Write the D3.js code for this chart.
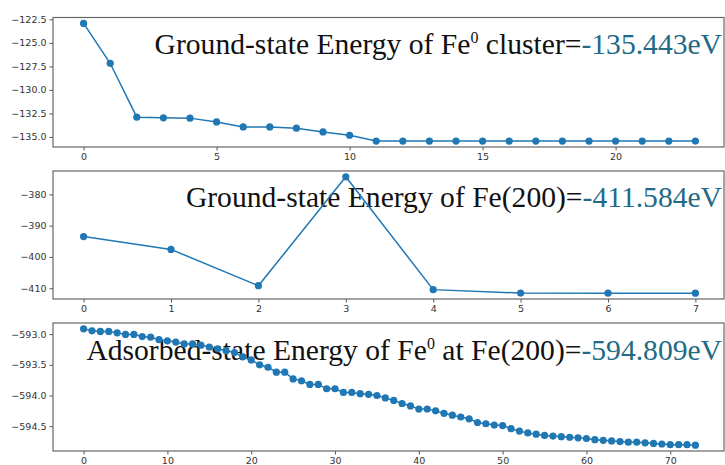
<!DOCTYPE html>
<html>
<head>
    <script src="https://d3js.org/d3.v7.min.js" charset="utf-8"></script>
    <style>
        body { margin: 0; background: #fff; }
        .tick text { font-family: "DejaVu Sans", sans-serif; font-size: 9.5px; fill: #333; }
        .tick line { stroke: #555; }
        .title { font-family: "Liberation Serif", "Times New Roman", serif; font-size: 29.6px; fill: #111; }
    </style>
</head>

<body>
    <script type="text/javascript">
        var width = 725;
        var height = 465;

        // Panel 1: Fe0 cluster relaxation
        var clusterSteps = d3.range(0, 24);
        var clusterEnergy = [-122.93, -127.17, -132.90, -132.97, -133.00, -133.40, -133.93, -133.93,
            -134.07, -134.47, -134.82, -135.44, -135.44, -135.44, -135.44, -135.44, -135.44, -135.44,
            -135.44, -135.44, -135.44, -135.44, -135.44, -135.443];
        var clusterYTicks = [-122.5, -125.0, -127.5, -130.0, -132.5, -135.0];
        var clusterXTicks = [0, 5, 10, 15, 20];

        // Panel 2: Fe(200) surface
        var surfSteps = d3.range(0, 8);
        var surfEnergy = [-393.5, -397.6, -409.2, -374.4, -410.45, -411.55, -411.57, -411.584];
        var surfYTicks = [-380, -390, -400, -410];
        var surfXTicks = [0, 1, 2, 3, 4, 5, 6, 7];

        // Panel 3: Fe0 adsorbed at Fe(200)
        var adsSteps = d3.range(0, 74);
        var adsEnergy = [-592.914, -592.947, -592.956, -592.956, -592.98, -593.005, -593.005, -593.04,
            -593.05, -593.09, -593.11, -593.13, -593.16, -593.16, -593.18, -593.21, -593.24, -593.27,
            -593.30, -593.37, -593.42, -593.50, -593.54, -593.62, -593.62, -593.73, -593.76, -593.82,
            -593.82, -593.89, -593.89, -593.95, -593.95, -593.97, -593.98, -594.00, -594.04, -594.08,
            -594.13, -594.17, -594.22, -594.22, -594.25, -594.29, -594.32, -594.35, -594.38, -594.44,
            -594.46, -594.48, -594.49, -594.54, -594.58, -594.61, -594.63, -594.65, -594.66, -594.67,
            -594.68, -594.69, -594.70, -594.72, -594.73, -594.74, -594.75, -594.76, -594.76, -594.77,
            -594.78, -594.79, -594.80, -594.80, -594.80, -594.809];
        var adsYTicks = [-593.0, -593.5, -594.0, -594.5];
        var adsXTicks = [0, 10, 20, 30, 40, 50, 60, 70];

        var blue = "#1f77b4";
        var teal = "#236a86";

        const svg = d3.select("body").append("svg")
            .attr("width", width)
            .attr("height", height);

        // matplotlib-style 5% padding on both axes
        function padded(ext) {
            var p = (ext[1] - ext[0]) * 0.05;
            return [ext[0] - p, ext[1] + p];
        }

        function drawPanel(cfg) {
            var xScale = d3.scaleLinear()
                .domain(padded(d3.extent(cfg.x)))
                .range([53, 726]);
            var yScale = d3.scaleLinear()
                .domain(padded(d3.extent(cfg.y)))
                .range([cfg.bottom, cfg.top]);

            var g = svg.append("g");

            // text goes under the line, as in the figure
            var t = g.append("text")
                .attr("class", "title")
                .attr("x", 722)
                .attr("y", cfg.baseline)
                .attr("text-anchor", "end");
            cfg.label.forEach(function (part) {
                var s = t.append("tspan").text(part.text);
                if (part.sup) {
                    s.attr("font-size", "16px").attr("dy", -11);
                } else if (part.after) {
                    s.attr("dy", 11);
                }
                if (part.color) s.style("fill", part.color);
            });

            var pts = cfg.x.map((d, i) => [d, cfg.y[i]]);

            g.append("path")
                .datum(pts)
                .attr("fill", "none")
                .attr("stroke", blue)
                .attr("stroke-width", 1.5)
                .attr("d", d3.line().x(d => xScale(d[0])).y(d => yScale(d[1])));

            g.selectAll("circle.pt")
                .data(pts)
                .join("circle")
                    .attr("class", "pt")
                    .attr("cx", d => xScale(d[0]))
                    .attr("cy", d => yScale(d[1]))
                    .attr("r", 3.6)
                    .attr("fill", blue);

            g.append("g")
                .attr("transform", "translate(0," + cfg.bottom + ")")
                .call(d3.axisBottom(xScale).tickValues(cfg.xTicks).tickSize(3.5).tickPadding(3).tickFormat(d3.format("d")))
                .call(a => a.select(".domain").remove());

            g.append("g")
                .attr("transform", "translate(53,0)")
                .call(d3.axisLeft(yScale).tickValues(cfg.yTicks).tickSize(3.5).tickPadding(3).tickFormat(cfg.yFormat))
                .call(a => a.select(".domain").remove());

            g.append("rect")
                .attr("x", 53)
                .attr("y", cfg.top)
                .attr("width", 724 - 53)
                .attr("height", cfg.bottom - cfg.top)
                .attr("fill", "none")
                .attr("stroke", "#666")
                .attr("stroke-width", 1.2);
        }

        var minus = s => s.replace("-", "\u2212");

        drawPanel({
            x: clusterSteps, y: clusterEnergy, top: 17.5, bottom: 147,
            xTicks: clusterXTicks, yTicks: clusterYTicks,
            yFormat: d => minus(d3.format(".1f")(d)),
            baseline: 54,
            label: [
                { text: "Ground-state Energy of Fe" },
                { text: "0", sup: true },
                { text: " cluster=", after: true },
                { text: "-135.443eV", color: teal }
            ]
        });

        drawPanel({
            x: surfSteps, y: surfEnergy, top: 171, bottom: 299,
            xTicks: surfXTicks, yTicks: surfYTicks,
            yFormat: d => minus(d3.format("d")(d)),
            baseline: 207,
            label: [
                { text: "Ground-state Energy of Fe(200)=" },
                { text: "-411.584eV", color: teal }
            ]
        });

        drawPanel({
            x: adsSteps, y: adsEnergy, top: 323, bottom: 451,
            xTicks: adsXTicks, yTicks: adsYTicks,
            yFormat: d => minus(d3.format(".1f")(d)),
            baseline: 360,
            label: [
                { text: "Adsorbed-state Energy of Fe" },
                { text: "0", sup: true },
                { text: " at Fe(200)=", after: true },
                { text: "-594.809eV", color: teal }
            ]
        });
    </script>
</body>
</html>
